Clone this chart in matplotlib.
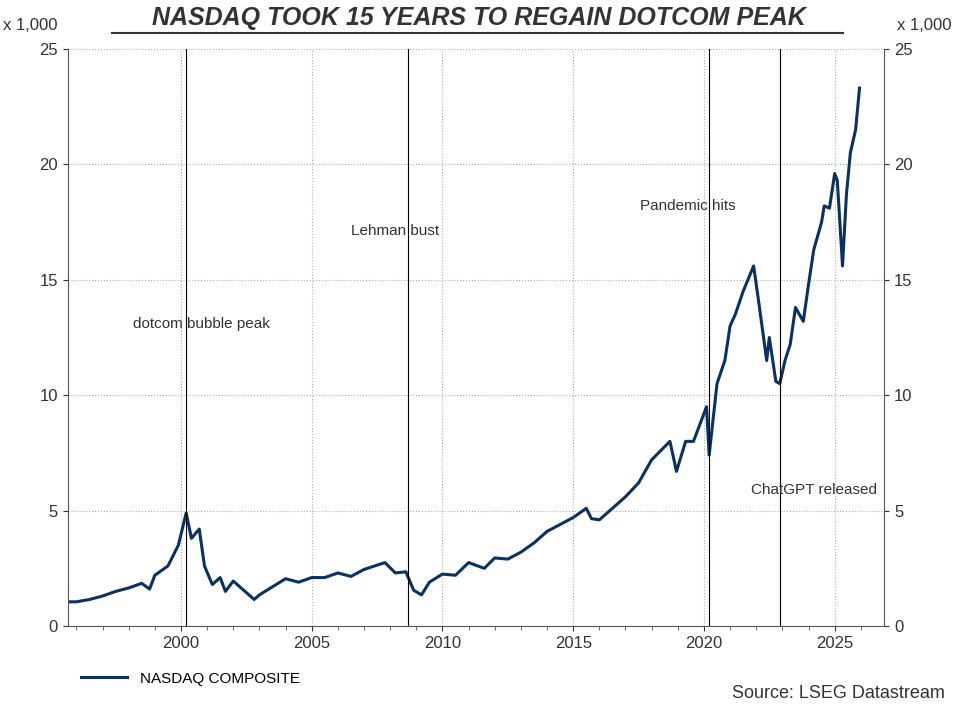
import matplotlib.pyplot as plt
import numpy as np

plt.rcParams['font.family'] = ['Liberation Sans', 'DejaVu Sans']

# NASDAQ composite (thousands)
years = [1995.7, 1996.0, 1996.5, 1997.0, 1997.5, 1998.0, 1998.5, 1998.8, 1999.0, 1999.5,
         1999.9, 2000.2, 2000.4, 2000.7, 2000.9, 2001.2, 2001.5, 2001.7, 2002.0, 2002.5,
         2002.8, 2003.0, 2003.5, 2004.0, 2004.5, 2005.0, 2005.5, 2006.0, 2006.5, 2007.0,
         2007.8, 2008.2, 2008.6, 2008.9, 2009.2, 2009.5, 2010.0, 2010.5, 2011.0, 2011.6,
         2012.0, 2012.5, 2013.0, 2013.5, 2014.0, 2014.5, 2015.0, 2015.5, 2015.7, 2016.0,
         2016.5, 2017.0, 2017.5, 2018.0, 2018.7, 2018.95, 2019.3, 2019.6, 2020.0, 2020.1,
         2020.2, 2020.5, 2020.8, 2021.0, 2021.2, 2021.5, 2021.9, 2022.1, 2022.4, 2022.5,
         2022.75, 2022.9, 2023.1, 2023.3, 2023.5, 2023.8, 2024.0, 2024.2, 2024.5, 2024.6,
         2024.8, 2025.0, 2025.1, 2025.3, 2025.45, 2025.6, 2025.8, 2025.95]
values = [1.05, 1.05, 1.15, 1.3, 1.5, 1.65, 1.85, 1.6, 2.2, 2.6,
          3.5, 4.9, 3.8, 4.2, 2.6, 1.8, 2.1, 1.5, 1.95, 1.45,
          1.15, 1.35, 1.7, 2.05, 1.9, 2.1, 2.1, 2.3, 2.15, 2.45,
          2.75, 2.3, 2.35, 1.55, 1.35, 1.9, 2.25, 2.2, 2.75, 2.5,
          2.95, 2.9, 3.2, 3.6, 4.1, 4.4, 4.7, 5.1, 4.65, 4.6,
          5.1, 5.6, 6.2, 7.2, 8.0, 6.7, 8.0, 8.0, 9.2, 9.5,
          7.4, 10.5, 11.5, 13.0, 13.5, 14.5, 15.6, 14.0, 11.5, 12.5,
          10.6, 10.5, 11.5, 12.2, 13.8, 13.2, 14.8, 16.3, 17.5, 18.2,
          18.1, 19.6, 19.3, 15.6, 18.7, 20.5, 21.5, 23.3]

events = [2000.2, 2008.7, 2020.2, 2022.9]
event_labels = ['dotcom bubble peak', 'Lehman bust', 'Pandemic hits', 'ChatGPT released']
label_pos = [(2000.8, 13.1), (2008.2, 17.1), (2019.4, 18.2), (2024.2, 5.9)]

navy = '#0a3161'
fig = plt.figure(figsize=(9.54, 7.09), dpi=100)
ax = fig.add_axes([0.071, 0.117, 0.856, 0.814])
ax.plot(years, values, color=navy, lw=2.2, label='NASDAQ COMPOSITE')
for e in events:
    ax.axvline(e, color='black', lw=0.8)
for t, (x, y) in zip(event_labels, label_pos):
    ax.text(x, y, t, ha='center', va='center', fontsize=11, color='#333333')

ax.set_xlim(1995.67, 2026.9)
ax.set_ylim(0, 25)
ax.set_xticks([2000, 2005, 2010, 2015, 2020, 2025])
ax.set_xticks(np.arange(1996, 2027), minor=True)
ax.set_yticks(range(0, 26, 5))
ax.grid(True, color='#b0b0b0', ls=':', lw=0.8)
ax.spines['top'].set_visible(False)
for s in ['left', 'right', 'bottom']:
    ax.spines[s].set_color('#555555')
ax.tick_params(labelsize=12, colors='#333333', right=True, labelright=True)
ax.tick_params(which='minor', length=3, color='#555555')
fig.text(0.003, 0.957, 'x 1,000', fontsize=12, color='#333333')
fig.text(0.997, 0.957, 'x 1,000', fontsize=12, color='#333333', ha='right')
fig.text(0.502, 0.974, 'NASDAQ TOOK 15 YEARS TO REGAIN DOTCOM PEAK', ha='center', va='center',
         fontsize=18, fontweight='bold', fontstyle='italic', color='#333333')
# underline
fig.add_artist(plt.Line2D([0.117, 0.884], [0.953, 0.953], color='#333333', lw=1.5))
ax.legend(loc='upper left', bbox_to_anchor=(0.0, -0.055), frameon=False, fontsize=11,
          handlelength=3)
fig.text(0.99, 0.01, 'Source: LSEG Datastream', ha='right', va='bottom', fontsize=13, color='#333333')
fig.savefig('out.png', dpi=100)
